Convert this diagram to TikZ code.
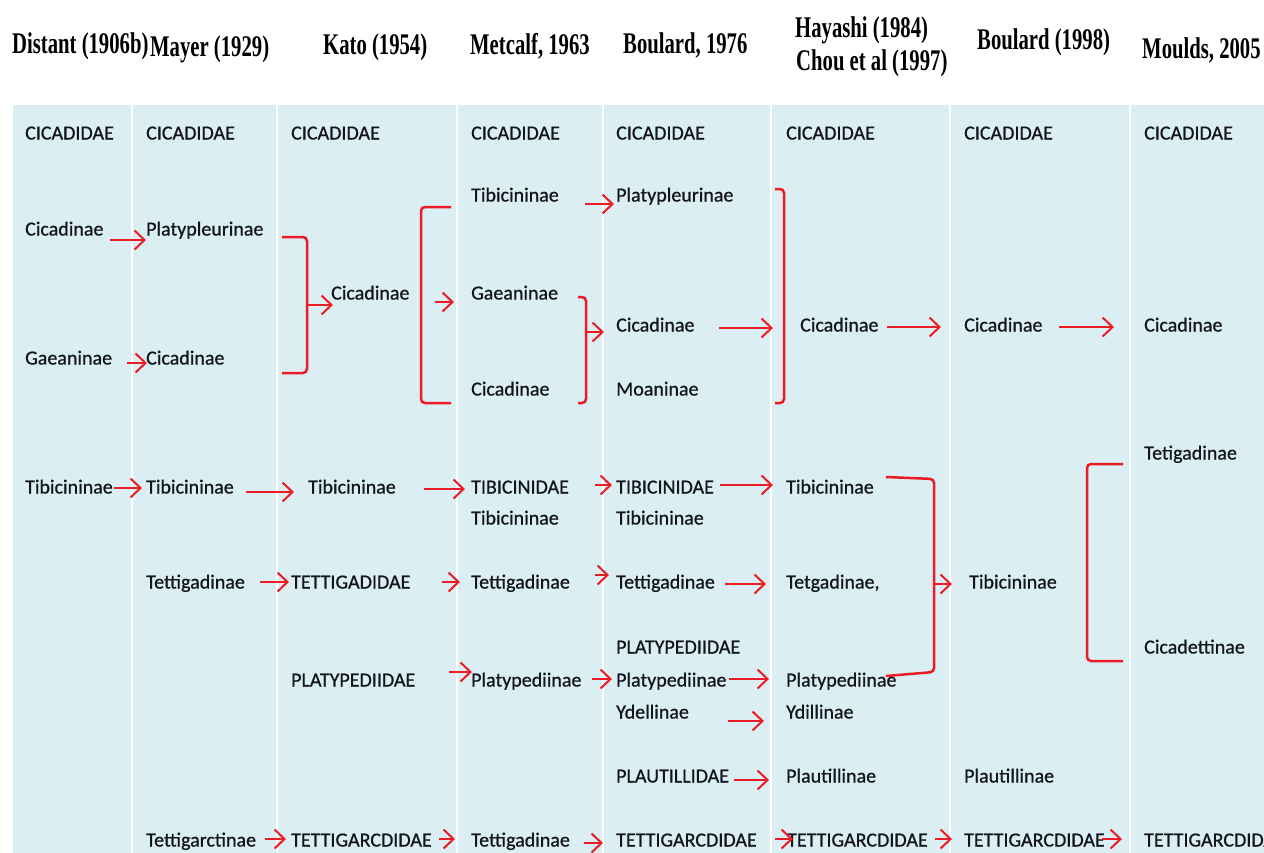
\documentclass[tikz,border=0pt]{standalone}
\usepackage{fontspec}
\setmainfont{Carlito}
\newfontfamily\lblfont{Carlito}[FakeBold=0.7]
\newfontfamily\hdfont{Liberation Serif}[FakeStretch=0.69]
\usetikzlibrary{arrows.meta,calc}
\definecolor{bgblue}{HTML}{DAEEF3}
\definecolor{ared}{RGB}{236,28,36}
\definecolor{txt}{RGB}{20,20,30}
\begin{document}
\begin{tikzpicture}[x=1pt,y=-1pt,
  lbl/.style={anchor=west,inner sep=0pt,text height=13pt,text depth=0pt,text=txt,font=\lblfont\fontsize{20}{24}\selectfont},
  hd/.style={anchor=base west,inner sep=0pt,font=\hdfont\bfseries\fontsize{30}{30}\selectfont},
  arr/.style={draw=ared,line width=2pt,-{Straight Barb[length=10pt,width=19pt]}},
  brk/.style={draw=ared,line width=2.5pt,rounded corners=4pt},
  divider/.style={draw=white,line width=2pt}]
\useasboundingbox (0,0) rectangle (1264,852);
% background columns
\fill[bgblue] (13,105) rectangle (1270,860);
\foreach \x in {132,277,457,603,771,950,1130} \draw[divider] (\x,105) -- (\x,860);
% headers
\node[hd] (t1) at (12,53) {Distant (1906b)};
\node[hd] (t2) at (150,56) {Mayer (1929)};
\node[hd] (t3) at (323,54) {Kato (1954)};
\node[hd] (t4) at (470,54) {Metcalf, 1963};
\node[hd] (t5) at (623,53) {Boulard, 1976};
\node[hd] (t6) at (795,37) {Hayashi (1984)};
\node[hd] (t7) at (796,70) {Chou et al (1997)};
\node[hd] (t8) at (977,49) {Boulard (1998)};
\node[hd] (t9) at (1142,58) {Moulds, 2005};
% column A
\node[lbl] (a0) at (25,133) {CICADIDAE};
\node[lbl] (a1) at (25,229) {Cicadinae};
\node[lbl] (a2) at (25,358) {Gaeaninae};
\node[lbl] (a3) at (25,487) {Tibicininae};
% column B
\node[lbl] (b0) at (146,133) {CICADIDAE};
\node[lbl] (b1) at (146,229) {Platypleurinae};
\node[lbl] (b2) at (146,358) {Cicadinae};
\node[lbl] (b3) at (146,487) {Tibicininae};
\node[lbl] (b4) at (146,582) {Tettigadinae};
\node[lbl] (b5) at (146,840) {Tettigarctinae};
% column C
\node[lbl] (c0) at (291,133) {CICADIDAE};
\node[lbl] (c1) at (331,293) {Cicadinae};
\node[lbl] (c3) at (308,487) {Tibicininae};
\node[lbl] (c4) at (291,582) {TETTIGADIDAE};
\node[lbl] (c5) at (291,680) {PLATYPEDIIDAE};
\node[lbl] (c6) at (291,840) {TETTIGARCDIDAE};
% column D
\node[lbl] (d0) at (471,133) {CICADIDAE};
\node[lbl] (d1) at (471,195) {Tibicininae};
\node[lbl] (d2) at (471,293) {Gaeaninae};
\node[lbl] (d2b) at (471,389) {Cicadinae};
\node[lbl] (d3) at (471,487) {TIBICINIDAE};
\node[lbl] (d3b) at (471,518) {Tibicininae};
\node[lbl] (d4) at (471,582) {Tettigadinae};
\node[lbl] (d5) at (471,680) {Platypediinae};
\node[lbl] (d6) at (471,840) {Tettigadinae};
% column E
\node[lbl] (e0) at (616,133) {CICADIDAE};
\node[lbl] (e1) at (616,195) {Platypleurinae};
\node[lbl] (e2) at (616,325) {Cicadinae};
\node[lbl] (e2b) at (616,389) {Moaninae};
\node[lbl] (e3) at (616,487) {TIBICINIDAE};
\node[lbl] (e3b) at (616,518) {Tibicininae};
\node[lbl] (e4) at (616,582) {Tettigadinae};
\node[lbl] (e5a) at (616,647) {PLATYPEDIIDAE};
\node[lbl] (e5) at (616,680) {Platypediinae};
\node[lbl] (e5b) at (616,712) {Ydellinae};
\node[lbl] (e7) at (616,776) {PLAUTILLIDAE};
\node[lbl] (e6) at (616,840) {TETTIGARCDIDAE};
% column F
\node[lbl] (f0) at (786,133) {CICADIDAE};
\node[lbl] (f2) at (800,325) {Cicadinae};
\node[lbl] (f3) at (786,487) {Tibicininae};
\node[lbl] (f4) at (786,582) {Tetgadinae,};
\node[lbl] (f5) at (786,680) {Platypediinae};
\node[lbl] (f5b) at (786,712) {Ydillinae};
\node[lbl] (f7) at (786,776) {Plautillinae};
\node[lbl] (f6) at (787,840) {TETTIGARCDIDAE};
% column G
\node[lbl] (g0) at (964,133) {CICADIDAE};
\node[lbl] (g2) at (964,325) {Cicadinae};
\node[lbl] (g4) at (969,582) {Tibicininae};
\node[lbl] (g7) at (964,776) {Plautillinae};
\node[lbl] (g6) at (964,840) {TETTIGARCDIDAE};
% column H
\node[lbl] (m0) at (1144,133) {CICADIDAE};
\node[lbl] (m2) at (1144,325) {Cicadinae};
\node[lbl] (m3) at (1144,453) {Tetigadinae};
\node[lbl] (m4) at (1144,647) {Cicadettinae};
\node[lbl] (m6) at (1144,840) {TETTIGARCDIDAE};
% bracket coordinates
\coordinate (kb1) at (282,237); \coordinate (kb2) at (307,237);
\coordinate (kb3) at (307,373); \coordinate (kb4) at (282,373);
\coordinate (kbm) at (307,305);
\coordinate (kc1) at (451,207); \coordinate (kc2) at (421,207);
\coordinate (kc3) at (421,403); \coordinate (kc4) at (451,403);
\coordinate (kcm) at (435,302);
\coordinate (kd1) at (578,297); \coordinate (kd2) at (586,297);
\coordinate (kd3) at (586,403); \coordinate (kd4) at (578,403);
\coordinate (kdm) at (586,332);
\coordinate (ke1) at (775,189); \coordinate (ke2) at (784,189);
\coordinate (ke3) at (784,403); \coordinate (ke4) at (775,403);
\coordinate (kf1) at (886,477); \coordinate (kf2) at (934,479);
\coordinate (kf3) at (934,672); \coordinate (kf4) at (886,676);
\coordinate (kfm) at (934,584);
\coordinate (kg1) at (1123,464); \coordinate (kg2) at (1087,464);
\coordinate (kg3) at (1087,661); \coordinate (kg4) at (1123,661);
% brackets
\draw[brk] (kb1) -- (kb2) -- (kb3) -- (kb4);
\draw[brk] (kc1) -- (kc2) -- (kc3) -- (kc4);
\draw[brk] (kd1) -- (kd2) -- (kd3) -- (kd4);
\draw[brk] (ke1) -- (ke2) -- (ke3) -- (ke4);
\draw[brk] (kf1) -- (kf2) -- (kf3) -- (kf4);
\draw[brk] (kg1) -- (kg2) -- (kg3) -- (kg4);
% arrows
\draw[arr] ($(a1.east)+(6,11)$) -- ($(b1.west)+(0,11)$);
\draw[arr] ($(a2.east)+(15,5)$) -- ($(b2.west)+(1,5)$);
\draw[arr] ($(a3.east)+(1,1)$) -- ($(b3.west)+(-4,1)$);
\draw[arr] ($(b3.east)+(12,5)$) -- ($(c3.west)+(-14,5)$);
\draw[arr] ($(b4.east)+(15,0)$) -- ($(c4.west)+(-2,0)$);
\draw[arr] ($(b5.east)+(9,-1)$) -- ($(c6.west)+(-5,-1)$);
\draw[arr] (kbm) -- ($(c1.west)+(2,12)$);
\draw[arr] ($(c3.east)+(28,2)$) -- ($(d3.west)+(-6,2)$);
\draw[arr] ($(c4.east)+(31,0)$) -- ($(d4.west)+(-11,0)$);
\draw[arr] ($(c5.east)+(34,-8)$) -- ($(d5.west)+(1,-8)$);
\draw[arr] ($(c6.east)+(7,-1)$) -- ($(d6.west)+(-16,-1)$);
\draw[arr] (kcm) -- ($(d2.west)+(-17,9)$);
\draw[arr] ($(d1.east)+(26,9)$) -- ($(e1.west)+(-2,9)$);
\draw[arr] (kdm) -- ($(e2.west)+(-12,7)$);
\draw[arr] ($(d3.east)+(26,-2)$) -- ($(e3.west)+(-4,-2)$);
\draw[arr] ($(d4.east)+(25,-7)$) -- ($(e4.west)+(-7,-7)$);
\draw[arr] ($(d5.east)+(10,-1)$) -- ($(e5.west)+(-4,-1)$);
\draw[arr] ($(d6.east)+(14,3)$) -- ($(e6.west)+(-13,3)$);
\draw[arr] ($(e2.east)+(24,3)$) -- ($(f2.west)+(-27,3)$);
\draw[arr] ($(e3.east)+(6,-2)$) -- ($(f3.west)+(-13,-2)$);
\draw[arr] ($(e4.east)+(10,2)$) -- ($(f4.west)+(-20,2)$);
\draw[arr] ($(e5.east)+(2,-1)$) -- ($(f5.west)+(-17,-1)$);
\draw[arr] ($(e5b.east)+(39,9)$) -- ($(f5b.west)+(-22,9)$);
\draw[arr] ($(e7.east)+(5,4)$) -- ($(f7.west)+(-17,4)$);
\draw[arr] ($(e6.east)+(18,-1)$) -- ($(f6.west)+(6,-1)$);
\draw[arr] ($(f2.east)+(8,2)$) -- ($(g2.west)+(-23,2)$);
\draw[arr] (kfm) -- ($(g4.west)+(-17,2)$);
\draw[arr] ($(f6.east)+(7,-1)$) -- ($(g6.west)+(-12,-1)$);
\draw[arr] ($(g2.east)+(16,2)$) -- ($(m2.west)+(-30,2)$);
\draw[arr] ($(g6.east)+(-3,-1)$) -- ($(m6.west)+(-22,-1)$);
\end{tikzpicture}
\end{document}
